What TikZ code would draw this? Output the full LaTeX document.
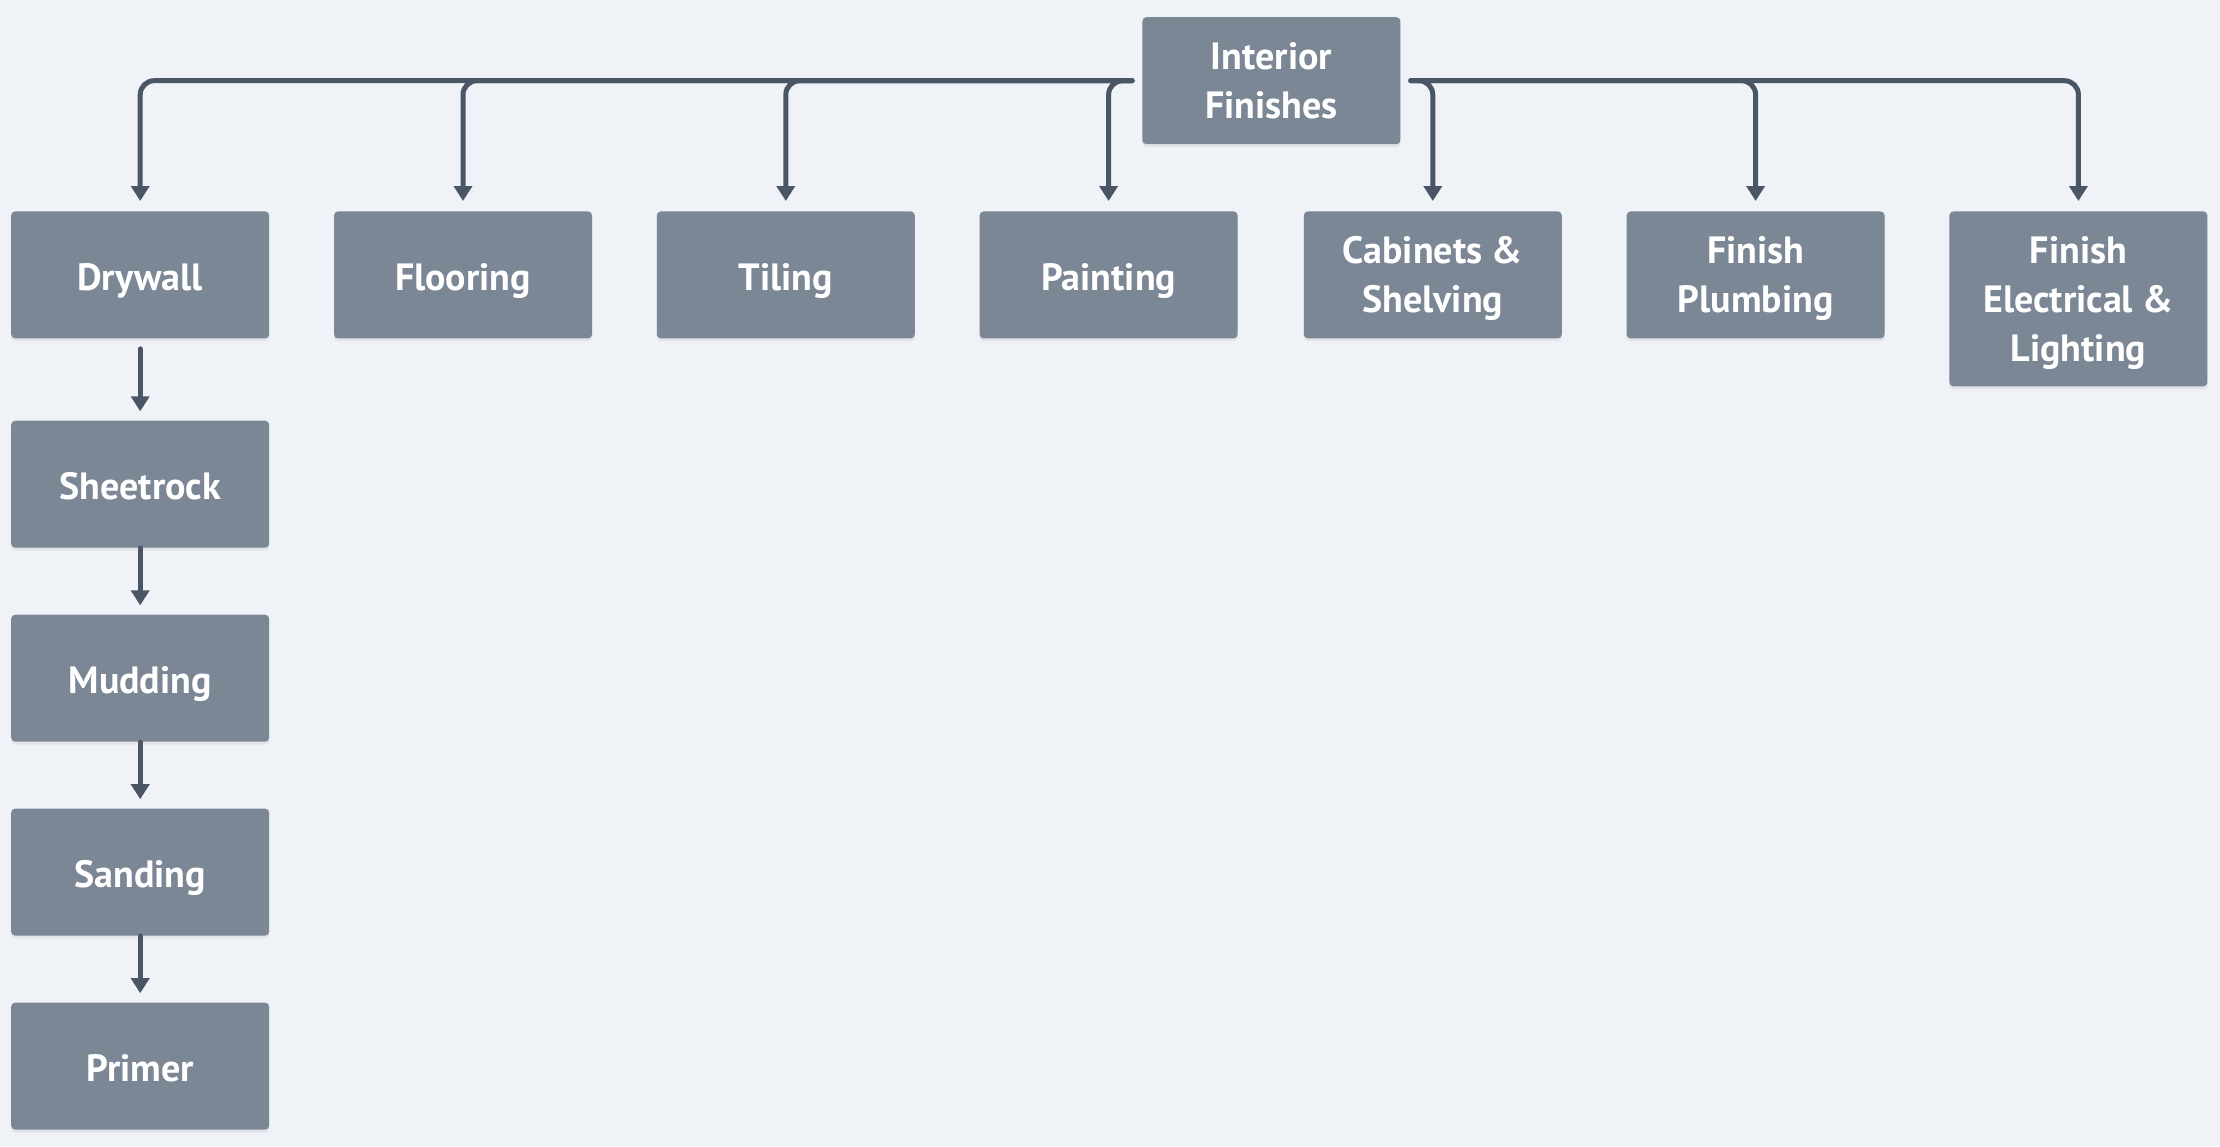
\documentclass[tikz,border=0pt]{standalone}
\usepackage{fontspec}
\setmainfont{PT Sans}
\usetikzlibrary{arrows.meta,shadows}

\begin{document}
\begin{tikzpicture}[x=.5pt,y=-.5pt,>={Triangle[width=9pt,length=7.5pt]}]
\definecolor{canvas}{RGB}{239,243,247}
\definecolor{taskgray}{RGB}{124,135,149}
\definecolor{linkslate}{RGB}{74,85,102}
\tikzset{
  task/.style={fill=taskgray, rounded corners=2pt, text=white, align=center,
    font=\bfseries\fontsize{19}{24.5}\selectfont, minimum width=129pt, inner sep=0pt,
    drop shadow={opacity=.12, shadow xshift=0pt, shadow yshift=-1.5pt}},
  single/.style={text height=21.4pt, text depth=5.8pt},
  multi/.style={text depth=-1pt},
  link/.style={draw=linkslate, line width=2.5pt, line cap=round, rounded corners=7pt, ->}
}

\fill[canvas] (0,0) rectangle (2220,1146);

\node[task, multi, minimum height=63.5pt] (root) at (1271.4,80.7) {Interior\\Finishes};

\foreach \name/\x/\h/\txt in {dw/140.2/63.5/Drywall, fl/463/63.5/Flooring, ti/785.8/63.5/Tiling,
    pa/1108.6/63.5/Painting}
  \node[task, single, anchor=north, minimum height=\h pt] (\name) at (\x,211) {\txt};
\foreach \name/\x/\h/\txt in {ca/1432.8/63.5/{Cabinets \&\\Shelving},
    fp/1755.6/63.5/{Finish\\Plumbing}, fel/2078.4/87.5/{Finish\\Electrical \&\\Lighting}}
  \node[task, multi, anchor=north, minimum height=\h pt] (\name) at (\x,211) {\txt};

\foreach \name/\y/\txt in {sh/484.2/Sheetrock, mu/678.2/Mudding, sa/872.1/Sanding, pr/1066.1/Primer}
  \node[task, single, minimum height=63.5pt] (\name) at (140.2,\y) {\txt};

\foreach \name in {dw,fl,ti,pa}
  \draw[link, shorten <=5pt, shorten >=5pt] (root.west) -| (\name.north);
\foreach \name in {ca,fp,fel}
  \draw[link, shorten <=5pt, shorten >=5pt] (root.east) -| (\name.north);

\draw[link, shorten <=5pt, shorten >=4.5pt] (dw.south) -- (sh.north);
\foreach \a/\b in {sh/mu, mu/sa, sa/pr}
  \draw[link, shorten >=4.5pt] (\a.south) -- (\b.north);
\end{tikzpicture}
\end{document}
